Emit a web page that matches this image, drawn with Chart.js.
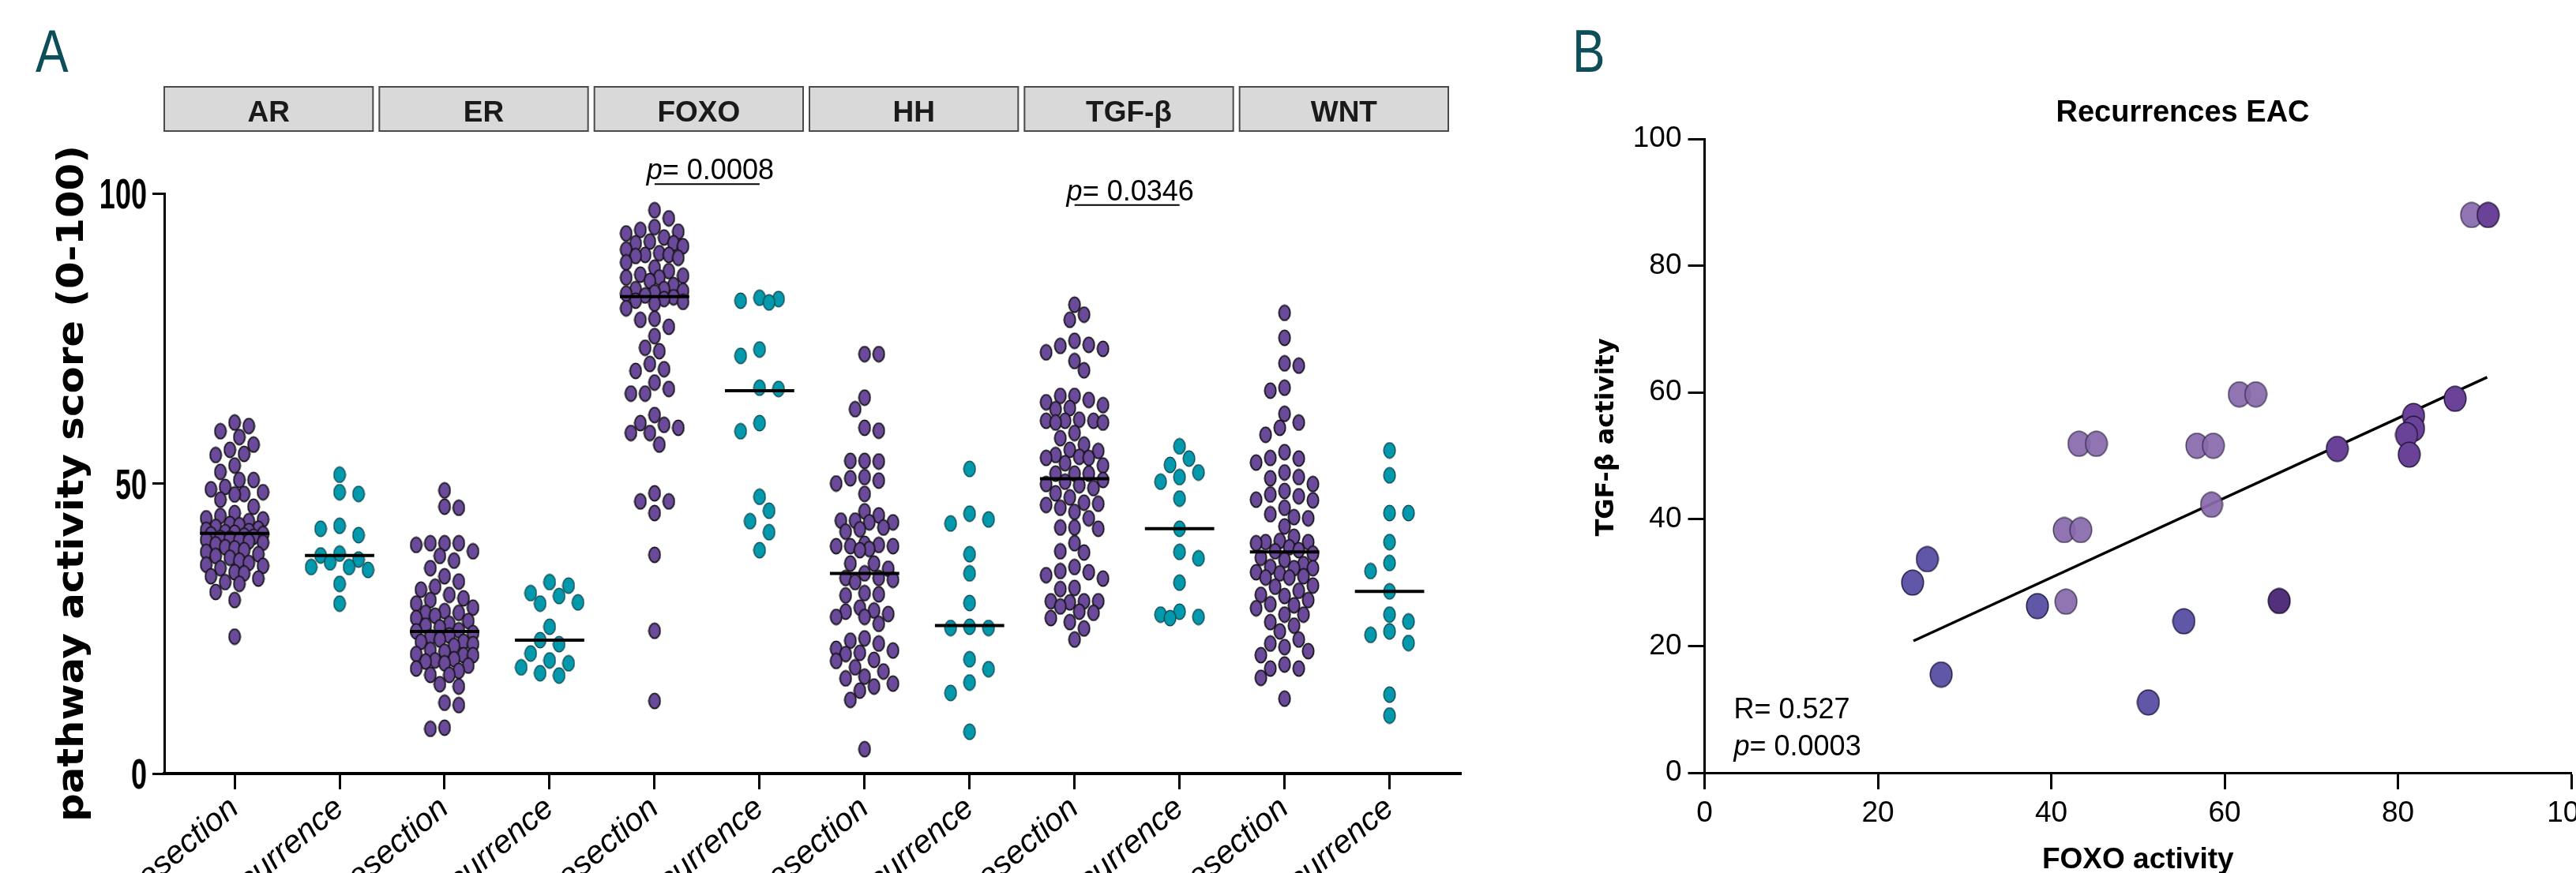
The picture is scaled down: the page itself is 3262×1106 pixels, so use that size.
<!DOCTYPE html>
<html>
<head>
<meta charset="utf-8">
<script src="https://cdn.jsdelivr.net/npm/chart.js@4.4.0/dist/chart.umd.min.js"></script>
<style>
  html, body { margin: 0; padding: 0; background: #fff; overflow: hidden; width: 3262px; height: 1106px; position: relative; }
  canvas { position: absolute; top: 0; }
  #chartA { left: 0; }
  #chartB { left: 1960px; }
</style>
</head>
<body>
<canvas id="chartA" width="1950" height="1300"></canvas>
<canvas id="chartB" width="1400" height="1106"></canvas>
<script>
// ---- panel A: pathway activity, resection vs recurrence ----
const groups = ['AR', 'ER', 'FOXO', 'HH', 'TGF-β', 'WNT'];
const arms = ['resection', 'recurrence'];
const xLabels = groups.flatMap(() => arms);

const arRes = [60.5, 59.9, 59.0, 58.0, 56.7, 55.8, 55.1, 54.9, 53.1, 52.0, 50.6, 50.6, 49.4, 49.0, 48.5, 48.2, 48.1, 47.2, 46.0, 44.9, 44.4, 44.0, 43.8, 43.5, 43.0, 42.8, 42.5, 42.2, 42.0, 41.8, 41.6, 41.5, 41.3, 41.2, 41.0, 40.8, 40.6, 40.5, 40.3, 40.2, 40.0, 39.8, 39.5, 39.0, 38.8, 38.5, 38.2, 37.8, 37.5, 37.2, 36.7, 36.3, 36.0, 35.8, 35.4, 34.7, 34.5, 34.0, 33.6, 33.0, 32.7, 31.3, 29.9, 23.6];
const arRec = [51.5, 48.5, 48.2, 42.7, 42.2, 41.1, 37.9, 37.6, 36.9, 36.4, 35.6, 35.6, 35.1, 32.7, 29.3];
const erRes = [48.8, 46.0, 45.8, 39.7, 39.7, 39.7, 39.4, 38.3, 37.5, 36.7, 35.4, 34.0, 33.1, 32.2, 31.7, 30.8, 30.2, 29.9, 29.3, 28.6, 28.0, 27.7, 27.7, 27.2, 26.8, 26.3, 25.8, 25.5, 25.2, 24.7, 24.5, 24.2, 23.8, 23.5, 23.1, 22.7, 22.7, 22.3, 22.0, 21.3, 21.0, 20.6, 20.4, 20.4, 19.7, 19.5, 19.3, 19.0, 18.6, 18.1, 17.7, 17.0, 17.0, 15.4, 15.0, 12.2, 11.8, 7.9, 7.7];
const erRec = [33.0, 32.4, 31.1, 30.6, 29.5, 29.3, 25.3, 23.0, 22.3, 20.7, 19.5, 19.0, 18.3, 17.3, 16.9];
const foxoRes = [97.1, 95.7, 94.2, 93.7, 93.4, 93.1, 92.4, 91.7, 91.4, 91.4, 90.9, 90.3, 89.7, 89.4, 89.4, 89.2, 88.9, 88.1, 87.2, 86.6, 86.0, 85.8, 85.5, 85.5, 84.9, 84.2, 83.5, 83.5, 83.2, 82.9, 82.7, 82.4, 82.1, 81.8, 81.5, 81.3, 81.0, 80.2, 78.4, 78.2, 77.0, 75.4, 73.4, 72.8, 70.6, 69.7, 69.4, 67.4, 66.3, 65.5, 65.5, 61.8, 60.4, 60.1, 59.6, 58.7, 58.7, 56.7, 48.3, 46.9, 46.9, 44.9, 37.7, 24.6, 12.5];
const foxoRec = [82.0, 81.8, 81.5, 81.2, 73.1, 72.0, 66.5, 66.3, 60.4, 59.0, 47.7, 45.3, 43.5, 41.6, 38.5];
const hhRes = [72.3, 72.3, 64.8, 62.8, 59.6, 59.1, 53.9, 53.9, 53.8, 51.1, 50.9, 50.5, 50.0, 48.2, 45.2, 44.5, 43.6, 43.6, 43.3, 43.3, 42.4, 42.1, 41.7, 39.6, 39.4, 39.2, 39.2, 39.2, 38.7, 38.5, 36.2, 36.2, 35.3, 34.5, 33.7, 33.7, 33.4, 33.0, 31.1, 30.9, 30.7, 28.6, 28.1, 27.9, 27.5, 27.0, 27.0, 25.8, 23.3, 22.9, 22.4, 21.5, 21.2, 20.8, 20.6, 19.6, 19.4, 18.3, 17.6, 16.7, 16.4, 15.5, 15.0, 14.3, 12.7, 4.2];
const hhRec = [52.5, 44.8, 43.8, 43.1, 37.8, 34.5, 29.4, 25.3, 25.1, 25.1, 19.7, 18.0, 15.7, 13.9, 7.2];
const tgfRes = [80.8, 79.1, 78.2, 74.6, 73.9, 73.7, 73.2, 72.6, 71.1, 69.5, 65.1, 65.1, 64.4, 64.0, 63.5, 63.0, 62.8, 61.0, 60.8, 60.8, 60.8, 60.5, 60.5, 58.7, 57.8, 56.7, 55.8, 55.6, 54.9, 54.6, 54.4, 54.4, 53.5, 53.1, 51.7, 51.7, 51.7, 50.6, 50.3, 49.9, 49.7, 49.2, 48.3, 47.6, 46.7, 46.5, 46.3, 45.8, 45.1, 44.0, 42.4, 42.4, 42.2, 39.7, 38.3, 38.1, 35.6, 34.9, 34.7, 34.2, 33.6, 32.0, 31.8, 29.7, 29.7, 29.7, 29.5, 28.8, 27.9, 27.7, 26.8, 26.1, 25.0, 23.1];
const tgfRec = [56.4, 54.3, 53.2, 51.9, 51.1, 50.3, 47.4, 42.2, 38.2, 37.1, 32.9, 27.9, 27.4, 27.0, 26.8];
const wntRes = [79.4, 75.1, 70.7, 70.3, 66.5, 66.0, 62.0, 60.5, 59.6, 58.4, 55.4, 54.4, 54.3, 53.6, 51.9, 51.1, 50.9, 49.9, 48.7, 48.1, 47.8, 47.2, 47.1, 45.8, 44.7, 44.2, 44.0, 42.6, 40.8, 40.1, 39.9, 39.9, 39.7, 39.0, 38.5, 38.3, 37.9, 37.2, 36.8, 36.1, 35.6, 35.4, 35.4, 34.7, 34.5, 34.0, 33.8, 33.8, 32.4, 32.2, 31.5, 30.8, 30.6, 29.9, 29.2, 29.0, 28.5, 27.4, 27.4, 26.1, 25.5, 24.5, 23.1, 22.4, 21.8, 21.1, 20.4, 18.8, 18.1, 18.1, 16.5, 12.9];
const wntRec = [55.7, 51.4, 44.9, 44.9, 39.9, 36.3, 34.9, 31.4, 27.4, 26.2, 24.5, 23.9, 22.5, 13.6, 10.0];

const resection = [arRes, erRes, foxoRes, hhRes, tgfRes, wntRes];
const recurrence = [arRec, erRec, foxoRec, hhRec, tgfRec, wntRec];
const medianScores = [41.4, 37.6, 24.5, 23.0, 82.2, 66.0, 34.5, 25.5, 50.8, 42.2, 38.2, 31.4];

// p values (between category i and i+1, bar level in score units)
const pLeftIndex = [4, 8];
const pLevel = [101.6, 98.0];
const pText = ['0.0008', '0.0346'];

// ---- panel B: FOXO vs TGF-β activity in recurrences ----
const foxoActivity = [88.5, 90.4, 61.7, 63.6, 43.2, 45.2, 56.8, 58.7, 73.0, 81.8, 81.8, 81.0, 81.3, 86.6, 58.5, 41.5, 43.4, 25.7, 24.0, 38.4, 41.7, 55.3, 66.3, 27.3, 51.2];
const tgfActivity = [88.0, 88.0, 59.7, 59.7, 51.9, 51.9, 51.6, 51.6, 51.1, 56.3, 54.3, 53.3, 50.2, 59.0, 42.3, 38.3, 38.3, 33.7, 30.0, 26.3, 27.0, 23.9, 27.1, 15.5, 11.1];
const pointShade = ['light', 'dark', 'light', 'light', 'light', 'light', 'light', 'light', 'dark', 'dark', 'dark', 'dark', 'dark', 'dark', 'light', 'light', 'light', 'blue', 'blue', 'blue', 'light', 'blue', 'darkest', 'blue', 'blue'];
const fitFoxo = [24.1, 90.3];
const fitTgf = [20.8, 62.4];

const SANS = '"Liberation Sans", Arial, sans-serif';

function ellipseImage(w, h, fill, stroke, lw) {
  const c = document.createElement('canvas');
  c.width = w; c.height = h;
  const g = c.getContext('2d');
  g.beginPath();
  g.ellipse(w / 2, h / 2, w / 2 - lw / 2 - 0.5, h / 2 - lw / 2 - 0.5, 0, 0, Math.PI * 2);
  g.fillStyle = fill;
  g.fill();
  g.lineWidth = lw;
  g.strokeStyle = stroke;
  g.stroke();
  return c;
}

// simple beeswarm: spread points sideways (in px) so they don't pile up
function swarm(values, step, maxOff, cw, ch) {
  const pxPerScore = 7.35;
  const order = values.map((v, i) => i).sort((a, b) => values[b] - values[a]);
  const placed = [];
  const off = new Array(values.length).fill(0);
  let flip = 1;
  const n = Math.floor(maxOff / step);
  for (const i of order) {
    const py = values[i] * pxPerScore;
    let best = 0, bestD = -1;
    for (let k = 0; k <= 2 * n; k++) {
      const o = k === 0 ? 0 : (k % 2 ? 1 : -1) * Math.ceil(k / 2) * step * flip;
      let d = Infinity;
      for (const p of placed) {
        const dx = (p.x - o) / cw, dy = (p.y - py) / ch;
        d = Math.min(d, Math.sqrt(dx * dx + dy * dy));
      }
      if (d >= 1) { best = o; bestD = d; break; }
      if (d > bestD) { bestD = d; best = o; }
    }
    if (best !== 0) flip = -flip;
    placed.push({ x: best, y: py });
    off[i] = best;
  }
  return off;
}

const pxPerCat = 133;
const resectionPts = [];
const recurrencePts = [];
resection.forEach((vals, g) => {
  const off = swarm(vals, 6, 36, 15, 19);
  vals.forEach((v, i) => resectionPts.push({ x: 2 * g + off[i] / pxPerCat, y: v }));
});
recurrence.forEach((vals, g) => {
  const off = swarm(vals, 12, 36, 17, 21);
  vals.forEach((v, i) => recurrencePts.push({ x: 2 * g + 1 + off[i] / pxPerCat, y: v }));
});

const medianData = [];
medianScores.forEach((m, i) => {
  medianData.push({ x: i - 0.33, y: m }, { x: i + 0.33, y: m }, { x: i + 0.5, y: null });
});

const purpleImg = ellipseImage(17, 22, '#6b4a9b', '#141414', 1.8);
const tealImg = ellipseImage(17, 22, '#0399ad', '#0b3f47', 1.3);

function drawPText(ctx, value, x, baseline, size, align) {
  const it = 'italic ' + size + 'px ' + SANS;
  const rg = size + 'px ' + SANS;
  ctx.font = it;
  const w1 = ctx.measureText('p').width;
  ctx.font = rg;
  const rest = '= ' + value;
  const w2 = ctx.measureText(rest).width;
  const start = align === 'center' ? x - (w1 + w2) / 2 : x;
  ctx.textAlign = 'left';
  ctx.textBaseline = 'alphabetic';
  ctx.font = it;
  ctx.fillText('p', start, baseline);
  ctx.font = rg;
  ctx.fillText(rest, start + w1, baseline);
}

function panelLetter(ctx, letter, x) {
  ctx.save();
  ctx.translate(x, 91);
  ctx.scale(0.82, 1);
  ctx.fillStyle = '#0e4e58';
  ctx.font = '76px ' + SANS;
  ctx.textAlign = 'left';
  ctx.textBaseline = 'alphabetic';
  ctx.fillText(letter, 0, 0);
  ctx.restore();
}

const panelA = {
  id: 'panelA',
  afterDraw(chart) {
    const { ctx, chartArea: a, scales: { x, y } } = chart;
    ctx.save();
    panelLetter(ctx, 'A', 45);

    // grey header strip
    const gap = 8, span = a.right - 16 - a.left;
    const w = (span - gap * (groups.length - 1)) / groups.length;
    groups.forEach((g, i) => {
      const left = a.left + i * (w + gap);
      ctx.fillStyle = '#d9d9d9';
      ctx.fillRect(left, 110, w, 56);
      ctx.strokeStyle = '#4a4a4a';
      ctx.lineWidth = 2;
      ctx.strokeRect(left, 110, w, 56);
      ctx.fillStyle = '#1a1a1a';
      ctx.font = 'bold 37px ' + SANS;
      ctx.textAlign = 'center';
      ctx.fillText(g, left + w / 2, 154);
    });

    // y axis title
    ctx.save();
    ctx.translate(93, (a.top + a.bottom) / 2);
    ctx.rotate(-Math.PI / 2);
    ctx.font = 'bold 46px "DejaVu Sans", sans-serif';
    const label = 'pathway activity score (0-100)';
    const tw = ctx.measureText(label).width;
    ctx.scale(857 / tw, 1);
    ctx.fillStyle = '#000';
    ctx.textAlign = 'center';
    ctx.textBaseline = 'middle';
    ctx.fillText(label, 0, 0);
    ctx.restore();

    // condensed y tick labels
    y.ticks.forEach(t => {
      ctx.save();
      ctx.translate(a.left - 22, y.getPixelForValue(t.value) + 19);
      ctx.scale(0.68, 1);
      ctx.font = 'bold 53px ' + SANS;
      ctx.fillStyle = '#000';
      ctx.textAlign = 'right';
      ctx.textBaseline = 'alphabetic';
      ctx.fillText(String(t.value), 0, 0);
      ctx.restore();
    });

    // significance bars
    ctx.fillStyle = '#000';
    ctx.strokeStyle = '#000';
    pLeftIndex.forEach((g, k) => {
      const x0 = x.getPixelForValue(g), x1 = x.getPixelForValue(g + 1);
      const py = y.getPixelForValue(pLevel[k]);
      ctx.beginPath();
      ctx.moveTo(x0, py);
      ctx.lineTo(x1, py);
      ctx.lineWidth = 2;
      ctx.stroke();
      drawPText(ctx, pText[k], (x0 + x1) / 2 + 4, py - 6, 36, 'center');
    });
    ctx.restore();
  }
};

new Chart(document.getElementById('chartA'), {
  type: 'scatter',
  data: {
    datasets: [
      { type: 'line', data: medianData, borderColor: '#000', borderWidth: 4, borderCapStyle: 'butt', pointRadius: 0, spanGaps: false, clip: false },
      { data: recurrencePts, pointStyle: tealImg, pointRadius: 9, clip: false },
      { data: resectionPts, pointStyle: purpleImg, pointRadius: 9, clip: false }
    ]
  },
  options: {
    responsive: false,
    animation: false,
    events: [],
    layout: { padding: { top: 245, right: 100, bottom: 0, left: 0 } },
    plugins: { legend: { display: false }, tooltip: { enabled: false } },
    scales: {
      x: {
        type: 'linear',
        min: -0.67,
        max: 11.68,
        afterBuildTicks: s => { s.ticks = xLabels.map((_, i) => ({ value: i })); },
        afterFit: s => { s.height = 320; },
        border: { color: '#000', width: 4 },
        grid: { drawOnChartArea: false, color: '#000', tickLength: 20, tickWidth: 3 },
        ticks: {
          autoSkip: false, minRotation: 40, maxRotation: 40, padding: 0, color: '#000',
          font: { family: SANS, size: 41, style: 'italic' },
          callback: v => xLabels[v]
        }
      },
      y: {
        min: 0,
        max: 100,
        afterFit: s => { s.width = 208; },
        ticks: { stepSize: 50, display: false },
        border: { color: '#000', width: 3 },
        grid: { drawOnChartArea: false, color: '#000', tickLength: 15, tickWidth: 3 }
      }
    }
  },
  plugins: [panelA]
});

// ---- panel B ----
const shadeImg = {
  light: ellipseImage(30, 34, 'rgba(137,106,172,0.93)', 'rgba(50,40,70,0.85)', 1.5),
  dark: ellipseImage(30, 34, '#6a4399', '#24163a', 1.5),
  blue: ellipseImage(30, 34, '#6157a9', '#221d44', 1.5),
  darkest: ellipseImage(30, 34, '#52307a', '#1c1030', 1.5)
};

const panelB = {
  id: 'panelB',
  afterDraw(chart) {
    const { ctx, chartArea: a } = chart;
    ctx.save();
    panelLetter(ctx, 'B', 31);

    ctx.fillStyle = '#000';
    ctx.font = 'bold 38px ' + SANS;
    ctx.textAlign = 'center';
    ctx.textBaseline = 'alphabetic';
    ctx.fillText('Recurrences EAC', 804, 154);

    ctx.font = 'bold 37px ' + SANS;
    ctx.fillText('FOXO activity', (a.left + a.right) / 2, 1100);

    ctx.save();
    ctx.translate(75, 554);
    ctx.rotate(-Math.PI / 2);
    ctx.font = 'bold 32px "DejaVu Sans", sans-serif';
    ctx.textBaseline = 'middle';
    ctx.fillText('TGF-β activity', 0, 0);
    ctx.restore();

    ctx.textAlign = 'left';
    ctx.font = '36px ' + SANS;
    ctx.fillText('R= 0.527', a.left + 37, 910);
    drawPText(ctx, '0.0003', a.left + 37, 957, 36, 'left');
    ctx.restore();
  }
};

const tickFont = { family: SANS, size: 37 };
new Chart(document.getElementById('chartB'), {
  type: 'scatter',
  data: {
    datasets: [
      {
        data: foxoActivity.map((v, i) => ({ x: v, y: tgfActivity[i] })),
        pointStyle: c => shadeImg[pointShade[c.dataIndex]] || shadeImg.dark,
        pointRadius: 15,
        clip: false
      },
      {
        type: 'line',
        data: fitFoxo.map((v, i) => ({ x: v, y: fitTgf[i] })),
        borderColor: '#000', borderWidth: 3.5, pointRadius: 0
      }
    ]
  },
  options: {
    responsive: false,
    animation: false,
    events: [],
    layout: { padding: { top: 176, right: 104, bottom: 0, left: 0 } },
    plugins: { legend: { display: false }, tooltip: { enabled: false } },
    scales: {
      x: {
        min: 0, max: 100,
        afterFit: s => { s.height = 127; },
        ticks: { stepSize: 20, padding: 9, color: '#000', font: tickFont },
        border: { color: '#000', width: 3 },
        grid: { drawOnChartArea: false, color: '#000', tickLength: 21, tickWidth: 3 }
      },
      y: {
        min: 0, max: 100,
        afterFit: s => { s.width = 198.5; },
        ticks: { stepSize: 20, padding: 8, color: '#000', font: tickFont },
        border: { color: '#000', width: 3 },
        grid: { drawOnChartArea: false, color: '#000', tickLength: 21, tickWidth: 3 }
      }
    }
  },
  plugins: [panelB]
});
</script>
</body>
</html>
